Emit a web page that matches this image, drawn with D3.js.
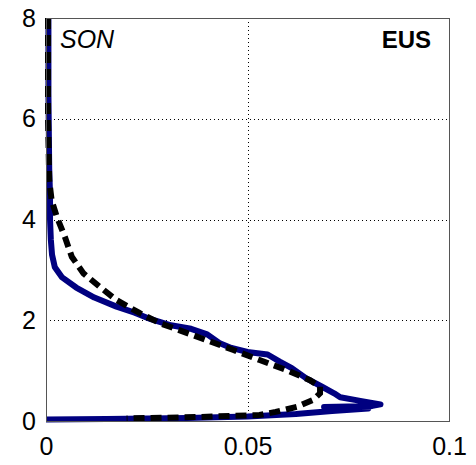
<!DOCTYPE html>
<html>
<head>
<meta charset="utf-8">
<script src="https://cdn.jsdelivr.net/npm/d3@7"></script>
<style>
  body { margin: 0; background: #fff; }
  text { font-family: "Liberation Sans", Arial, sans-serif; }
</style>
</head>
<body>
<svg id="chart"></svg>
<script>
// profile values (x = fraction, y = height)
const blueX = [0.0006, 0.0006, 0.0008, 0.001, 0.001, 0.0012, 0.0015, 0.0022, 0.004, 0.0075, 0.012, 0.0175, 0.022, 0.026, 0.031, 0.036, 0.040, 0.043, 0.046, 0.050, 0.055, 0.058, 0.061, 0.0645, 0.0685, 0.0715, 0.073, 0.078, 0.083, 0.081, 0.069, 0.080, 0.071, 0.062, 0.050, 0.035, 0.015, 0.0]
const blueY = [8, 6.5, 5, 4.5, 4.0, 3.6, 3.3, 3.05, 2.85, 2.65, 2.45, 2.27, 2.15, 2.02, 1.9, 1.83, 1.72, 1.55, 1.45, 1.37, 1.32, 1.18, 1.05, 0.85, 0.68, 0.55, 0.47, 0.40, 0.33, 0.30, 0.28, 0.25, 0.20, 0.14, 0.09, 0.06, 0.04, 0.03]

const dashX = [0.0005, 0.0005, 0.0008, 0.0014, 0.0027, 0.0047, 0.0064, 0.0093, 0.0134, 0.0175, 0.0233, 0.0283, 0.0332, 0.040, 0.0465, 0.053, 0.0597, 0.0655, 0.068, 0.068, 0.0663, 0.0622, 0.057, 0.053, 0.038, 0.020]
const dashY = [8, 6, 4.78, 4.38, 4.05, 3.65, 3.26, 2.93, 2.66, 2.4, 2.14, 1.94, 1.8, 1.6, 1.41, 1.21, 1.01, 0.81, 0.68, 0.55, 0.42, 0.28, 0.18, 0.12, 0.08, 0.05]

const xTicks = [0, 0.05, 0.1]
const xTickLabels = ["0", "0.05", "0.1"]
const yTicks = [0, 2, 4, 6, 8]
const season = "SON"
const region = "EUS"

const width = 476
const height = 465
const plotLeft = 46
const plotRight = 449
const plotTop = 18
const plotBottom = 421

const svg = d3.select("#chart").attr("width", width).attr("height", height)

const x = d3.scaleLinear().domain([0, 0.1]).range([plotLeft, plotRight])
const y = d3.scaleLinear().domain([0, 8]).range([plotBottom, plotTop])

// grid (dotted), MATLAB style
svg.append("g")
  .selectAll("line")
  .data(xTicks.filter((d) => d > 0 && d < 0.1))
  .join("line")
  .attr("x1", (d) => Math.round(x(d)) + 0.5)
  .attr("x2", (d) => Math.round(x(d)) + 0.5)
  .attr("y1", plotTop)
  .attr("y2", plotBottom)
  .attr("stroke", "#000")
  .attr("stroke-width", 1)
  .attr("stroke-dasharray", "1,3")

svg.append("g")
  .selectAll("line")
  .data(yTicks.filter((d) => d > 0 && d < 8))
  .join("line")
  .attr("x1", plotLeft)
  .attr("x2", plotRight)
  .attr("y1", (d) => Math.round(y(d)) + 0.5)
  .attr("y2", (d) => Math.round(y(d)) + 0.5)
  .attr("stroke", "#000")
  .attr("stroke-width", 1)
  .attr("stroke-dasharray", "1,3")

const line = d3.line()
  .x((d) => x(d[0]))
  .y((d) => y(d[1]))

const bluePts = blueX.map((v, i) => [v, blueY[i]])
const dashPts = dashX.map((v, i) => [v, dashY[i]])

svg.append("path")
  .attr("d", line(bluePts))
  .attr("fill", "none")
  .attr("stroke", "#000080")
  .attr("stroke-width", 6)
  .attr("stroke-linejoin", "round")

svg.append("path")
  .attr("d", line(dashPts))
  .attr("fill", "none")
  .attr("stroke", "#000")
  .attr("stroke-width", 6)
  .attr("stroke-dasharray", "11,6")

// frame
svg.append("rect")
  .attr("x", plotLeft + 0.5)
  .attr("y", plotTop + 0.5)
  .attr("width", plotRight - plotLeft)
  .attr("height", plotBottom - plotTop)
  .attr("fill", "none")
  .attr("stroke", "#555")
  .attr("stroke-width", 1)

// axes labels
const xAxis = d3.axisBottom(x)
  .tickValues(xTicks)
  .tickFormat((d, i) => xTickLabels[i])
  .tickSize(0)
  .tickPadding(16)
const gx = svg.append("g")
  .attr("transform", `translate(0, ${plotBottom})`)
  .call(xAxis)
gx.select(".domain").remove()
gx.selectAll("text")
  .attr("font-size", 25)
  .attr("font-family", "Liberation Sans, Arial, sans-serif")
  .attr("fill", "#000")

const yAxis = d3.axisLeft(y)
  .tickValues(yTicks)
  .tickSize(0)
  .tickPadding(10)
const gy = svg.append("g")
  .attr("transform", `translate(${plotLeft}, 0)`)
  .call(yAxis)
gy.select(".domain").remove()
gy.selectAll("text")
  .attr("font-size", 25)
  .attr("font-family", "Liberation Sans, Arial, sans-serif")
  .attr("fill", "#000")

svg.append("text")
  .attr("x", 60)
  .attr("y", 48)
  .attr("font-size", 25)
  .attr("font-style", "italic")
  .text(season)

svg.append("text")
  .attr("x", 431)
  .attr("y", 48)
  .attr("font-size", 24)
  .attr("font-weight", "bold")
  .attr("text-anchor", "end")
  .text(region)
</script>
</body>
</html>
